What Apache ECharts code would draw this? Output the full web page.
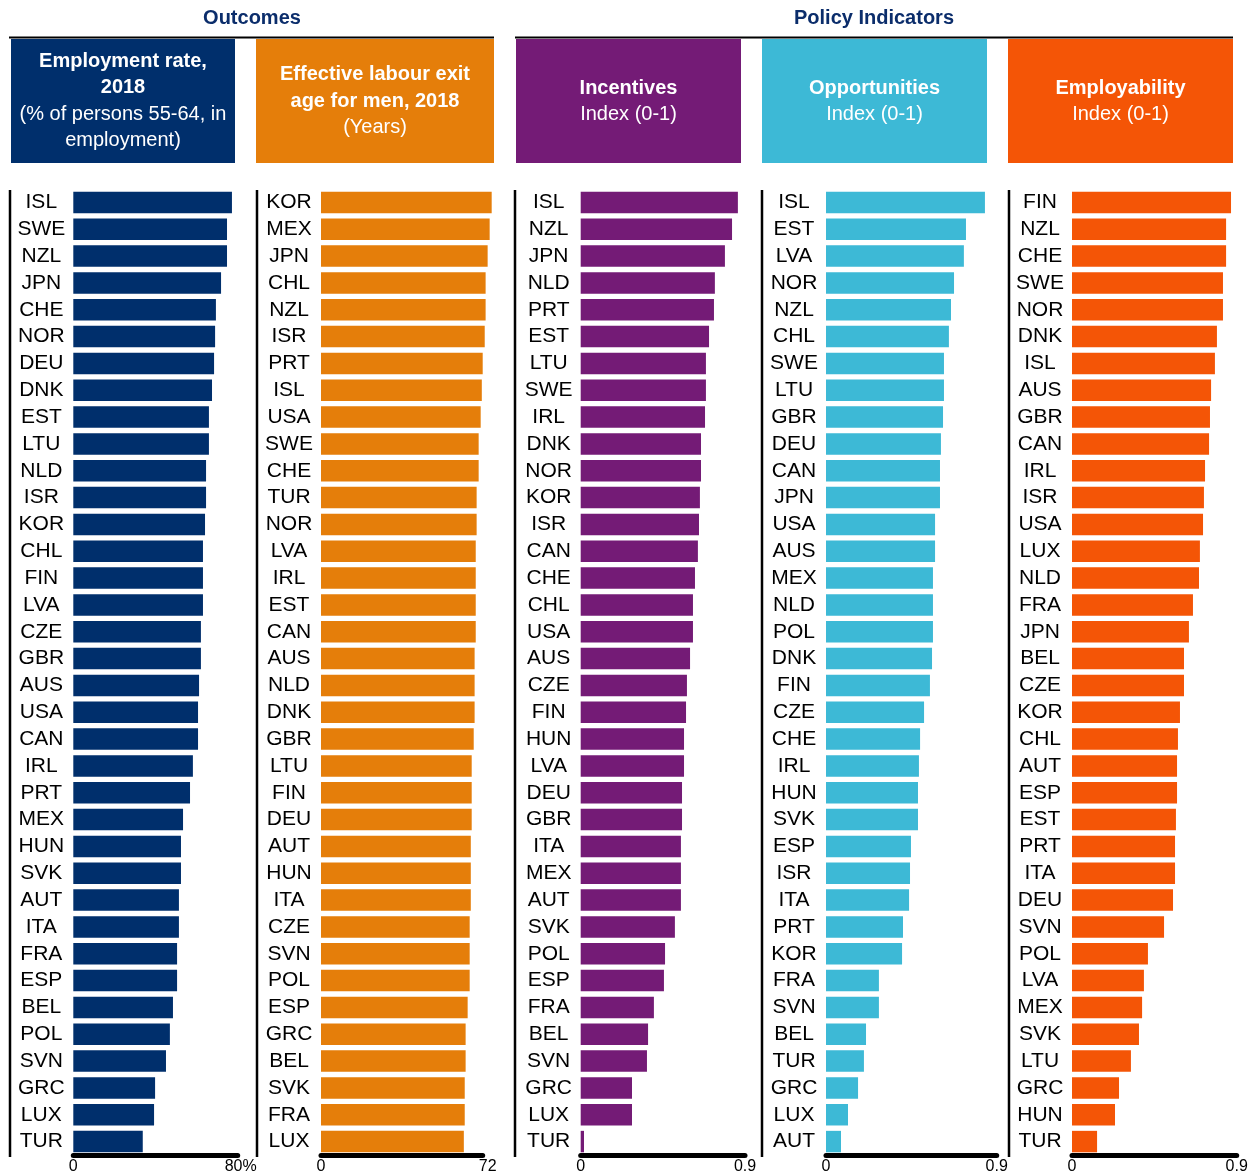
<!DOCTYPE html>
<html>
<head>
<meta charset="utf-8">
<script src="https://cdn.jsdelivr.net/npm/echarts@6/dist/echarts.min.js"></script>
<style>
  html, body { margin: 0; padding: 0; background: #fff; }
  #chart { width: 1254px; height: 1176px; }
</style>
</head>
<body>
<div id="chart"></div>
<script>
// Outcomes: employment rate 55-64 (%), effective labour exit age for men (years)
const empCountries = ['ISL','SWE','NZL','JPN','CHE','NOR','DEU','DNK','EST','LTU','NLD','ISR','KOR','CHL','FIN','LVA','CZE','GBR','AUS','USA','CAN','IRL','PRT','MEX','HUN','SVK','AUT','ITA','FRA','ESP','BEL','POL','SVN','GRC','LUX','TUR'];
const empValues = [77.2,74.8,74.8,71.9,69.4,69.0,68.5,67.5,66.0,66.0,64.6,64.6,64.1,63.1,63.1,63.1,62.1,62.1,61.2,60.7,60.7,58.2,56.8,53.4,52.4,52.4,51.4,51.4,50.5,50.5,48.5,47.0,45.1,39.8,39.3,33.8];

const exitCountries = ['KOR','MEX','JPN','CHL','NZL','ISR','PRT','ISL','USA','SWE','CHE','TUR','NOR','LVA','IRL','EST','CAN','AUS','NLD','DNK','GBR','LTU','FIN','DEU','AUT','HUN','ITA','CZE','SVN','POL','ESP','GRC','BEL','SVK','FRA','LUX'];
const exitValues = [76.0,75.1,74.2,73.3,73.3,72.9,72.0,71.6,71.1,70.2,70.2,69.3,69.3,68.9,68.9,68.9,68.9,68.4,68.4,68.4,68.0,67.1,67.1,67.1,66.7,66.7,66.7,66.2,66.2,66.2,65.3,64.4,64.4,64.0,64.0,63.6];

// Policy indicators, index 0-1
const incCountries = ['ISL','NZL','JPN','NLD','PRT','EST','LTU','SWE','IRL','DNK','NOR','KOR','ISR','CAN','CHE','CHL','USA','AUS','CZE','FIN','HUN','LVA','DEU','GBR','ITA','MEX','AUT','SVK','POL','ESP','FRA','BEL','SVN','GRC','LUX','TUR'];
const incValues = [0.861,0.829,0.790,0.735,0.730,0.703,0.686,0.686,0.681,0.659,0.659,0.653,0.648,0.642,0.626,0.615,0.615,0.599,0.582,0.577,0.566,0.566,0.555,0.555,0.549,0.549,0.549,0.516,0.462,0.456,0.401,0.369,0.363,0.281,0.281,0.018];

const oppCountries = ['ISL','EST','LVA','NOR','NZL','CHL','SWE','LTU','GBR','DEU','CAN','JPN','USA','AUS','MEX','NLD','POL','DNK','FIN','CZE','CHE','IRL','HUN','SVK','ESP','ISR','ITA','PRT','KOR','FRA','SVN','BEL','TUR','GRC','LUX','AUT'];
const oppValues = [0.838,0.738,0.727,0.675,0.659,0.648,0.622,0.622,0.617,0.606,0.601,0.601,0.575,0.575,0.564,0.564,0.564,0.559,0.548,0.517,0.496,0.490,0.485,0.485,0.448,0.443,0.438,0.406,0.401,0.279,0.279,0.211,0.200,0.169,0.116,0.079];

const emplCountries = ['FIN','NZL','CHE','SWE','NOR','DNK','ISL','AUS','GBR','CAN','IRL','ISR','USA','LUX','NLD','FRA','JPN','BEL','CZE','KOR','CHL','AUT','ESP','EST','PRT','ITA','DEU','SVN','POL','LVA','MEX','SVK','LTU','GRC','HUN','TUR'];
const emplValues = [0.869,0.842,0.842,0.825,0.825,0.792,0.781,0.760,0.754,0.749,0.727,0.721,0.716,0.699,0.694,0.661,0.639,0.612,0.612,0.590,0.579,0.574,0.574,0.568,0.563,0.563,0.552,0.503,0.415,0.393,0.383,0.366,0.322,0.257,0.235,0.137];

// Axis ranges and end-of-axis tick labels
const axisMax = [80, 72, 0.9, 0.9, 0.9];
const axisMaxLabels = ['80%', '72', '0.9', '0.9', '0.9'];

const panelCategories = [empCountries, exitCountries, incCountries, oppCountries, emplCountries];
const panelValues = [empValues, exitValues, incValues, oppValues, emplValues];
const panelColors = ['#002F6C', '#E57E0A', '#741B76', '#3DB9D6', '#F45506'];

// plot area of each panel (left edge, width) in px
const plotBoxes = [[73.3, 164.4], [321, 161.7], [580.7, 164.3], [826, 170.7], [1072, 164.7]];
// extra left padding on the end label so it sits slightly past the axis end
const endLabelShift = [6, 10, 0, 0, 0];
const plotTop = 189;
const plotHeight = 966;

const FONT = '"Liberation Sans", Arial, sans-serif';
const TICK_SIZE = 16;

const grid = [], xAxis = [], yAxis = [], series = [];
for (let i = 0; i < 5; i++) {
  grid.push({ left: plotBoxes[i][0], width: plotBoxes[i][1], top: plotTop, height: plotHeight, containLabel: false });
  xAxis.push({
    type: 'value', gridIndex: i, min: 0, max: axisMax[i], interval: axisMax[i],
    axisLine: { show: true, lineStyle: { color: '#000', width: 5 } },
    axisTick: { show: false }, splitLine: { show: false },
    axisLabel: {
      margin: 4, fontFamily: FONT, fontSize: TICK_SIZE, color: '#000',
      formatter: (v) => (v === 0 ? '{z|0}' : '{e|' + axisMaxLabels[i] + '}'),
      rich: {
        z: { fontFamily: FONT, fontSize: TICK_SIZE, color: '#000' },
        e: { fontFamily: FONT, fontSize: TICK_SIZE, color: '#000', padding: [0, 0, 0, endLabelShift[i]] }
      }
    }
  });
  yAxis.push({
    type: 'category', gridIndex: i, inverse: true, data: panelCategories[i],
    axisLine: { show: false }, axisTick: { show: false }, splitLine: { show: false },
    axisLabel: { interval: 0, align: 'center', margin: 32, fontFamily: FONT, fontSize: 21, color: '#000', padding: [6, 0, 0, 0] }
  });
  series.push({
    type: 'bar', xAxisIndex: i, yAxisIndex: i, data: panelValues[i],
    barCategoryGap: '20%', clip: false, silent: true,
    itemStyle: { color: panelColors[i] }
  });
}

// header blocks
const headerBoxes = [[11, 235], [256, 494], [516, 741], [762, 987], [1008, 1233]];
const headerLines = [
  [['Employment rate,', 'bold', 60], ['2018', 'bold', 86], ['(% of persons 55-64, in', 'normal', 113], ['employment)', 'normal', 139]],
  [['Effective labour exit', 'bold', 73], ['age for men, 2018', 'bold', 100], ['(Years)', 'normal', 126]],
  [['Incentives', 'bold', 87], ['Index (0-1)', 'normal', 113]],
  [['Opportunities', 'bold', 87], ['Index (0-1)', 'normal', 113]],
  [['Employability', 'bold', 87], ['Index (0-1)', 'normal', 113]]
];

const graphic = [];
graphic.push({ type: 'text', style: { text: 'Outcomes', x: 252, y: 18, textAlign: 'center', textVerticalAlign: 'middle', font: 'bold 20px ' + FONT, fill: '#0B2D6B' } });
graphic.push({ type: 'text', style: { text: 'Policy Indicators', x: 874, y: 18, textAlign: 'center', textVerticalAlign: 'middle', font: 'bold 20px ' + FONT, fill: '#0B2D6B' } });
graphic.push({ type: 'line', shape: { x1: 9, y1: 37.5, x2: 494, y2: 37.5 }, style: { stroke: '#000', lineWidth: 2 } });
graphic.push({ type: 'line', shape: { x1: 515, y1: 37.5, x2: 1233, y2: 37.5 }, style: { stroke: '#000', lineWidth: 2 } });

for (let i = 0; i < 5; i++) {
  const [x0, x1] = headerBoxes[i];
  graphic.push({ type: 'rect', shape: { x: x0, y: 39, width: x1 - x0, height: 124 }, style: { fill: panelColors[i] } });
  const cx = (x0 + x1) / 2;
  headerLines[i].forEach(([txt, weight, y]) => {
    graphic.push({ type: 'text', style: { text: txt, x: cx, y: y + 1, textAlign: 'center', textVerticalAlign: 'middle', font: weight + ' 20px ' + FONT, fill: '#fff' } });
  });
}

// panel separators
[10, 257, 515, 762, 1009].forEach((x) => {
  graphic.push({ type: 'line', shape: { x1: x, y1: 190, x2: x, y2: 1157 }, style: { stroke: '#000', lineWidth: 2.5 } });
});

const chart = echarts.init(document.getElementById('chart'), null, { renderer: 'canvas' });
chart.setOption({
  animation: false,
  backgroundColor: '#fff',
  grid, xAxis, yAxis, series, graphic
});
</script>
</body>
</html>
